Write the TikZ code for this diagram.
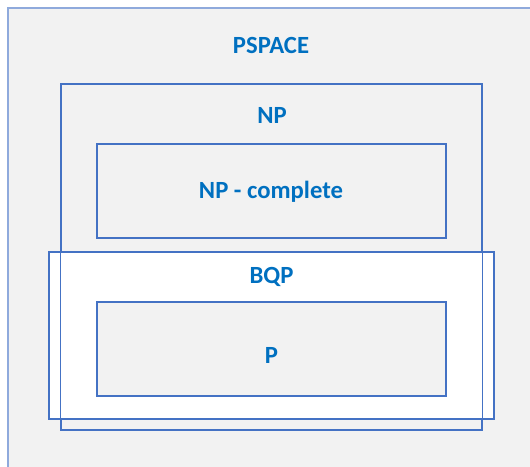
\documentclass[tikz,border=0pt]{standalone}
\usepackage{fontspec}
\setmainfont{Carlito}
\definecolor{bg}{HTML}{F2F2F2}
\definecolor{edge}{HTML}{4472C4}
\definecolor{outeredge}{HTML}{8FAADC}
\definecolor{lbl}{HTML}{0070C0}
\begin{document}
\begin{tikzpicture}[x=1pt,y=-1pt,
  box/.style={draw=edge, line width=1.2pt},
  lab/.style={text=lbl, font=\fontsize{24.7}{28}\selectfont\bfseries, anchor=base, inner sep=0pt}]
\useasboundingbox (0,0) rectangle (530,466);
\clip (0,0) rectangle (530,466);
\fill[white] (0,0) rectangle (530,466);
\draw[fill=bg, draw=outeredge, line width=1.6pt] (8,8) rectangle (545,480);
\node[box, fill=bg, minimum width=421pt, minimum height=346pt, inner sep=0pt] (np) at (271.5,257) {};
\node[box, fill=bg, minimum width=349pt, minimum height=94pt, inner sep=0pt] (npc) at (271.5,191) {};
\node[box, fill=white, minimum width=445pt, minimum height=167pt, inner sep=0pt] (bqp) at (271.5,335.5) {};
\draw[edge, line width=1.2pt] (np.north west) rectangle (np.south east);
\node[box, fill=bg, minimum width=349pt, minimum height=94pt, inner sep=0pt] (p) at (271.5,349) {};
\node[lab] (lpspace) at (271,53.5) {PSPACE};
\node[lab] (lnp) at (272,123) {NP};
\node[lab] (lnpc) at (271,198) {NP - complete};
\node[lab] (lbqp) at (271.5,283.5) {BQP};
\node[lab] (lp) at (271.5,363) {P};
\end{tikzpicture}
\end{document}
